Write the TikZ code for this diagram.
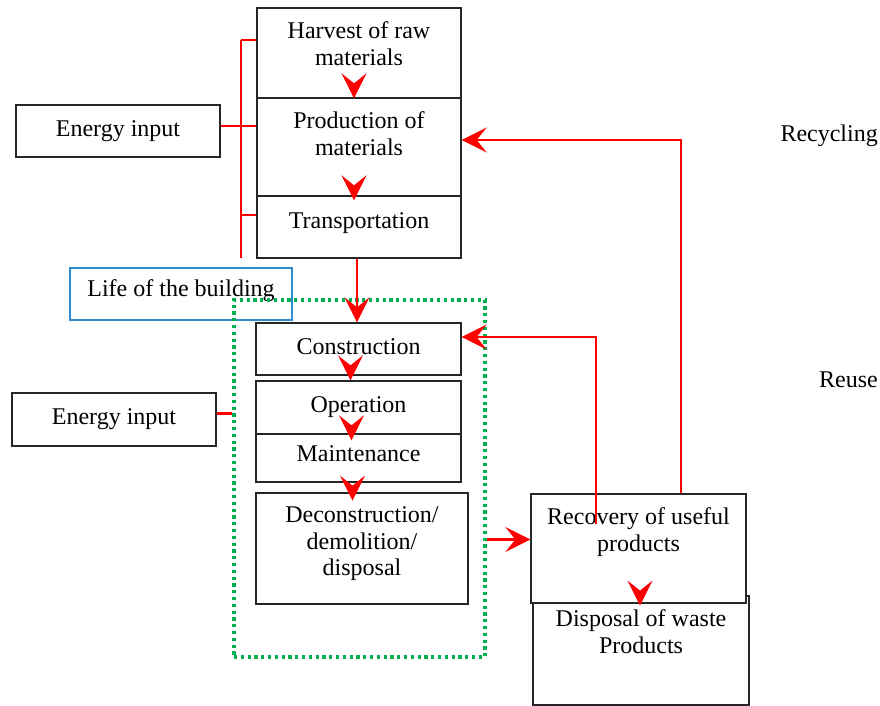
\documentclass[tikz,border=0pt]{standalone}
\usepackage{fontspec}
\setmainfont{Liberation Serif}
\usetikzlibrary{arrows.meta,calc}
\definecolor{framegreen}{RGB}{0,176,80}
\definecolor{lifeblue}{RGB}{46,140,210}
\tikzset{
  stage/.style={draw=black!85, line width=1.3pt, fill=white, inner sep=0pt},
  txt/.style={anchor=north, inner sep=0pt, align=center, yshift=#1, execute at begin node=\strut},
  txt/.default=-14.5pt,
  flow/.style={draw=red, line width=2.2pt, -{Stealth[length=25pt,width=25pt,inset=10pt]}},
  feed/.style={draw=red, line width=2.2pt},
}
\begin{document}
\begin{tikzpicture}[x=1pt,y=-1pt,font=\fontsize{24}{26.5}\selectfont]
          \useasboundingbox (0,0) rectangle (880,706);
          \node[draw=lifeblue, line width=1.2pt, minimum width=222pt, minimum height=52pt, inner sep=0pt,
                label={[txt=-10.5pt]north:{Life of the building}}] (life) at (181,294) {};
          \node[draw=framegreen, line width=3.2pt, dash pattern=on 3.2pt off 3.6pt,
                minimum width=251pt, minimum height=357pt, inner sep=0pt] (frame) at (359.5,478.5) {};
          \node[stage, minimum width=204pt, minimum height=90pt, label={[txt]north:{Harvest of raw\\materials}}] (harvest) at (359,53) {};
          \node[stage, minimum width=204pt, minimum height=98pt, label={[txt]north:{Production of\\materials}}] (prod) at (359,147) {};
          \node[stage, minimum width=204pt, minimum height=62pt, label={[txt]north:{Transportation}}] (trans) at (359,227) {};
          \node[stage, minimum width=204pt, minimum height=52pt, label={[txt=-13pt]north:{Energy input}}] (energyA) at (118,131) {};
          \node[stage, minimum width=205pt, minimum height=52pt, label={[txt=-13.5pt]north:{Construction}}] (constr) at (358.5,349) {};
          \node[stage, minimum width=205pt, minimum height=53pt, label={[txt=-13.5pt]north:{Operation}}] (oper) at (358.5,407.5) {};
          \node[stage, minimum width=205pt, minimum height=48pt, label={[txt=-9pt]north:{Maintenance}}] (maint) at (358.5,458) {};
          \node[stage, minimum width=212pt, minimum height=111pt, label={[txt]north:{Deconstruction/\\demolition/\\disposal}}] (decon) at (362,548.5) {};
          \node[stage, minimum width=204pt, minimum height=53pt, label={[txt=-13pt]north:{Energy input}}] (energyB) at (114,419.5) {};
          \node[stage, minimum width=216pt, minimum height=109pt, label={[txt]north:{Disposal of waste\\Products}}] (dispo) at (641,650.5) {};
          \node[stage, minimum width=215pt, minimum height=109pt, label={[txt]north:{Recovery of useful\\products}}] (recov) at (638.5,548.5) {};
          \node[anchor=base east, inner sep=0pt] (recyc) at (878,141) {Recycling};
          \node[anchor=base east, inner sep=0pt] (reuse) at (878,387) {Reuse};
          % energy feeds
          \coordinate (busTop) at (241,40);
          \coordinate (busEnd) at (241,258);
          \draw[feed] (busTop) -- (busEnd);
          \draw[feed] (busTop) -- (busTop -| harvest.west);
          \draw[feed] ($(energyA.east)+(0,-5)$) -- ($(prod.west)+(0,-21)$);
          \draw[feed] ($(trans.west)+(0,-12)$) -- ++(-16,0);
          \coordinate (eb) at ($(energyB.east)+(0,-6)$);
          \draw[feed] (eb) -- (eb -| frame.west);
          % flow of stages
          \draw[flow] ($(harvest.south)+(-5,-14)$) -- ($(prod.north)+(-5,1)$);
          \draw[flow] ($(prod.south)+(-5,-10)$) -- ($(trans.north)+(-5,5)$);
          \draw[flow] ($(trans.south)+(-2,0)$) -- ($(constr.north)+(-1.5,0)$);
          \draw[flow] ($(constr.south)+(-8,-9)$) -- ($(oper.north)+(-8,0)$);
          \draw[flow] ($(oper.south)+(-7,-8)$) -- ($(maint.north)+(-7,7)$);
          \draw[flow] ($(maint.south)+(-6,3)$) -- ($(maint.south)+(-6,18)$);
          \draw[flow] ($(recov.south)+(1.5,-13)$) -- ($(recov.south)+(1.5,2)$);
          \draw[flow] ($(recov.west)+(-43,-9)$) -- ($(recov.west)+(0,-9)$);
          \draw[flow] ($(recov.north west)+(66,31)$) |- ($(constr.east)+(0,-12)$);
          \draw[flow] ($(recov.north west)+(151,0)$) |- ($(prod.east)+(0,-7)$);
\end{tikzpicture}
\end{document}
